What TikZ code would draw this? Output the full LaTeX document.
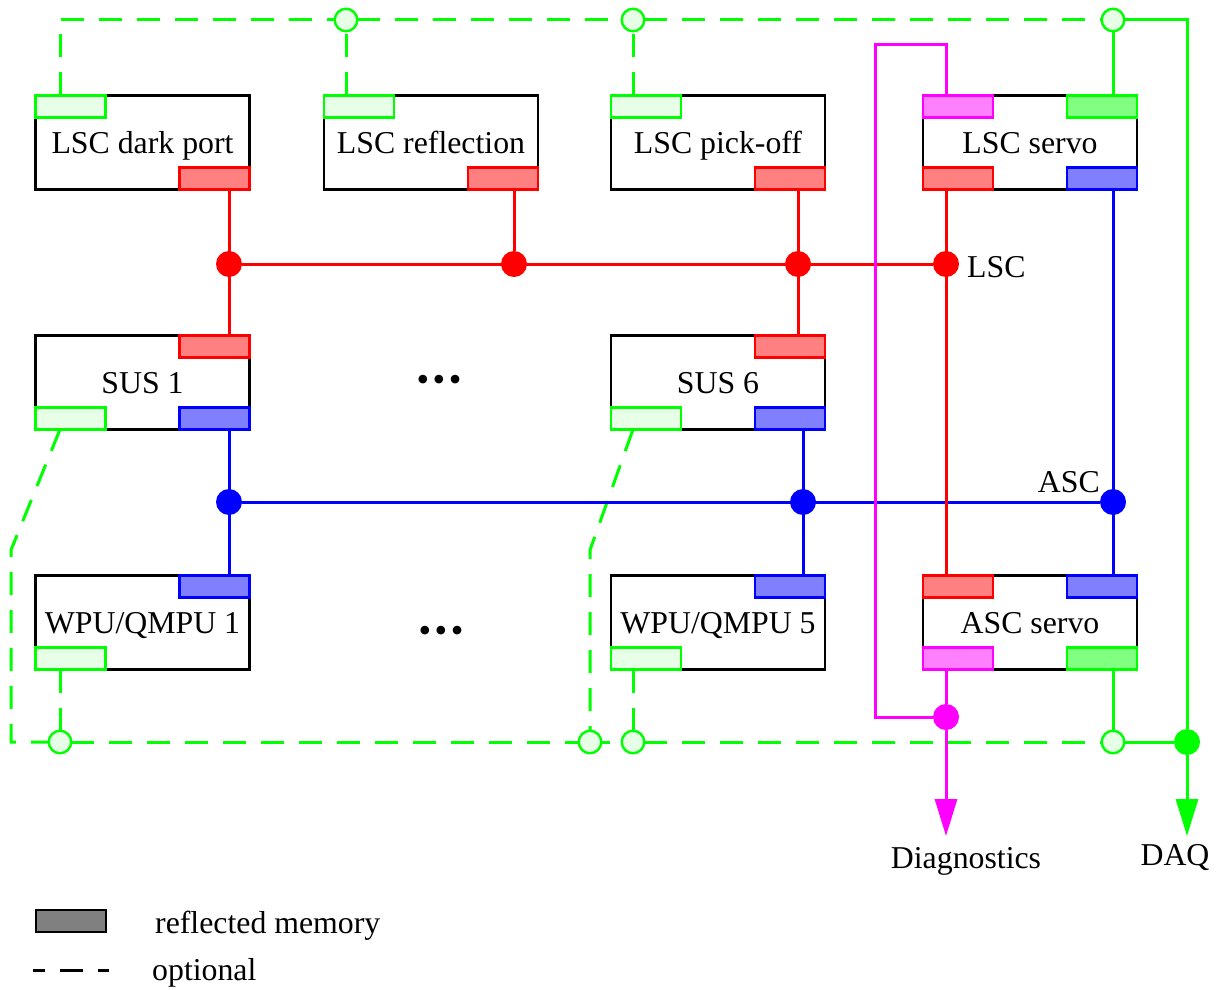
\documentclass[tikz,border=0pt]{standalone}
\usepackage{fontspec}
\setmainfont{Liberation Serif}
\usetikzlibrary{arrows.meta,calc}
\definecolor{gr}{RGB}{0,255,0}
\definecolor{grl}{RGB}{230,255,230}
\definecolor{grm}{RGB}{128,255,128}
\definecolor{rd}{RGB}{255,0,0}
\definecolor{rdl}{RGB}{255,128,128}
\definecolor{bl}{RGB}{0,0,255}
\definecolor{bll}{RGB}{128,128,255}
\definecolor{mg}{RGB}{255,0,255}
\definecolor{mgl}{RGB}{255,128,255}
\definecolor{lgray}{RGB}{128,128,128}
\begin{document}
\begin{tikzpicture}[x=1pt,y=-1pt,
  font=\fontsize{31.8}{38}\selectfont,
  unit/.style={draw=black, fill=white, line width=2.2pt, minimum width=214pt, minimum height=94pt,
    inner sep=0pt, outer sep=0pt, text height=21pt, text depth=0pt},
  port/.style={line width=2.4pt, minimum width=70pt, minimum height=22pt, inner sep=0pt, outer sep=0pt},
  gpt/.style={port, draw=gr, fill=grl},
  gpts/.style={port, draw=gr, fill=grm},
  rpt/.style={port, draw=rd, fill=rdl},
  bpt/.style={port, draw=bl, fill=bll},
  mpt/.style={port, draw=mg, fill=mgl},
  dot/.style={circle, fill=#1, inner sep=0pt, minimum size=26pt, outer sep=0pt},
  opn/.style={circle, draw=gr, fill=grl, line width=2.4pt, minimum size=22.5pt, inner sep=0pt, outer sep=0pt},
  rline/.style={draw=rd, line width=3pt},
  bline/.style={draw=bl, line width=3pt},
  mline/.style={draw=mg, line width=3pt},
  gline/.style={draw=gr, line width=3pt},
  gdash/.style={draw=gr, line width=3pt, dash pattern=on 23pt off 15pt},
  tip/.style={-{Triangle[length=37pt,width=22pt]}},
  lbl/.style={inner sep=0pt, text height=21pt, text depth=0pt},
  ellip/.style={inner sep=0pt, font=\fontsize{36}{36}\selectfont}]
\useasboundingbox (0,0) rectangle (1219,990);

% units
\node[unit] (dp) at (142.5,142.5) {LSC dark port};
\node[unit] (rf) at (431,142.5) {LSC reflection};
\node[unit] (pk) at (718,142.5) {LSC pick-off};
\node[unit] (ls) at (1030,142.5) {LSC servo};
\node[unit] (s1) at (142.5,382.5) {SUS 1};
\node[unit] (s6) at (718,382.5) {SUS 6};
\node[unit] (w1) at (142.5,622.5) {WPU/QMPU 1};
\node[unit] (w5) at (718,622.5) {WPU/QMPU 5};
\node[unit] (as) at (1030,622.5) {ASC servo};

% ports
\node[gpt,anchor=north west] (dpG) at (dp.north west) {};
\node[rpt,anchor=south east] (dpR) at (dp.south east) {};
\node[gpt,anchor=north west] (rfG) at (rf.north west) {};
\node[rpt,anchor=south east] (rfR) at (rf.south east) {};
\node[gpt,anchor=north west] (pkG) at (pk.north west) {};
\node[rpt,anchor=south east] (pkR) at (pk.south east) {};
\node[mpt,anchor=north west] (lsM) at (ls.north west) {};
\node[gpts,anchor=north east] (lsG) at (ls.north east) {};
\node[rpt,anchor=south west] (lsR) at (ls.south west) {};
\node[bpt,anchor=south east] (lsB) at (ls.south east) {};
\node[rpt,anchor=north east] (s1R) at (s1.north east) {};
\node[gpt,anchor=south west] (s1G) at (s1.south west) {};
\node[bpt,anchor=south east] (s1B) at (s1.south east) {};
\node[rpt,anchor=north east] (s6R) at (s6.north east) {};
\node[gpt,anchor=south west] (s6G) at (s6.south west) {};
\node[bpt,anchor=south east] (s6B) at (s6.south east) {};
\node[bpt,anchor=north east] (w1B) at (w1.north east) {};
\node[gpt,anchor=south west] (w1G) at (w1.south west) {};
\node[bpt,anchor=north east] (w5B) at (w5.north east) {};
\node[gpt,anchor=south west] (w5G) at (w5.south west) {};
\node[rpt,anchor=north west] (asR) at (as.north west) {};
\node[bpt,anchor=north east] (asB) at (as.north east) {};
\node[mpt,anchor=south west] (asM) at (as.south west) {};
\node[gpts,anchor=south east] (asG) at (as.south east) {};

% junction dots
\node[dot=rd] (r1) at (229,264) {};
\node[dot=rd] (r2) at (514,264) {};
\node[dot=rd] (r3) at (798,264) {};
\node[dot=rd] (r4) at (946,264) {};
\node[dot=bl] (b1) at (229,502) {};
\node[dot=bl] (b2) at (803,502) {};
\node[dot=bl] (b3) at (1113,502) {};
\node[dot=mg] (m1) at (946,717) {};
\node[dot=gr] (gD) at (1187,742) {};

% open circles
\node[opn] (t1) at (346,20) {};
\node[opn] (t2) at (633,20) {};
\node[opn] (t3) at (1113,20) {};
\node[opn] (o1) at (60,742) {};
\node[opn] (o2) at (590,742) {};
\node[opn] (o3) at (633,742) {};
\node[opn] (o4) at (1113,742) {};

% bend points and free ends
\coordinate (cTL) at (60,20);
\coordinate (cTR) at (1187,20);
\coordinate (dA) at (11,550);
\coordinate (cBL) at (11,742);
\coordinate (dB) at (590,550);
\coordinate (mA) at (946,45);
\coordinate (mB) at (875,45);
\coordinate (mC) at (875,717);
\coordinate (dEnd) at (946,836);
\coordinate (qEnd) at (1187,836);

% optional (dashed) green links
\draw[gdash] (dpG.north -| cTL) -- (cTL) -- (t1);
\draw[gdash] (t1) -- (t2);
\draw[gdash] (t2) -- (t3);
\draw[gdash] (rfG.north -| t1) -- (t1);
\draw[gdash] (pkG.north -| t2) -- (t2);
\draw[gdash] (s1G.south -| o1) -- (dA) -- (cBL) -- (o1);
\draw[gdash] (o1) -- (o2);
\draw[gdash, dash phase=14pt] (o2) -- (o3);
\draw[gdash] (o3) -- (o4);
\draw[gdash] (w1G.south -| o1) -- (o1);
\draw[gdash] (s6G.south -| o3) -- (dB) -- (o2);
\draw[gdash] (w5G.south -| o3) -- (o3);

% ASC bus (blue)
\draw[bline] (b1) -- (b3);
\draw[bline] (s1B.south -| b1) -- (w1B.north -| b1);
\draw[bline] (s6B.south -| b2) -- (w5B.north -| b2);
\draw[bline] (lsB.south -| b3) -- (asB.north -| b3);

% LSC bus (red)
\draw[rline] (r1) -- (r4);
\draw[rline] (dpR.south -| r1) -- (s1R.north -| r1);
\draw[rline] (rfR.south -| r2) -- (r2);
\draw[rline] (pkR.south -| r3) -- (s6R.north -| r3);
\draw[rline] (lsR.south -| r4) -- (asR.north -| r4);

% diagnostics (magenta)
\draw[mline] (lsM.north -| mA) -- (mA) -- (mB) -- (mC) -- (m1);
\draw[mline] (asM.south -| m1) -- (m1);
\draw[mline, tip, fill=mg] (m1) -- (dEnd);

% DAQ (solid green)
\draw[gline] (lsG.north -| t3) -- (t3);
\draw[gline] (t3) -- (cTR) -- (gD);
\draw[gline] (asG.south -| o4) -- (o4);
\draw[gline] (o4) -- (gD);
\draw[gline, tip, fill=gr] (gD) -- (qEnd);

% labels
\node[lbl, anchor=west] (lscL) at (967,267) {LSC};
\node[lbl, anchor=east] (ascL) at (1100,482) {ASC};
\node[lbl] (diagL) at (966,858) {Diagnostics};
\node[lbl] (daqL) at (1175,855) {DAQ};
\node[ellip] (dots1) at (439,383) {\textbullet\hskip 3.5pt\textbullet\hskip 3.5pt\textbullet};
\node[ellip] (dots2) at (441,634) {\textbullet\hskip 3.5pt\textbullet\hskip 3.5pt\textbullet};

% legend
\node[port, draw=black, fill=lgray] (legBox) at (71,921) {};
\node[inner sep=0pt, anchor=base west] (legT1) at (155,933) {reflected memory};
\coordinate (lA) at (33,970);
\coordinate (lB) at (109,970);
\draw[black, line width=3pt, dash pattern=on 23pt off 15pt, dash phase=11pt] (lA) -- (lB);
\node[inner sep=0pt, anchor=base west] (legT2) at (152,980) {optional};
\end{tikzpicture}
\end{document}
